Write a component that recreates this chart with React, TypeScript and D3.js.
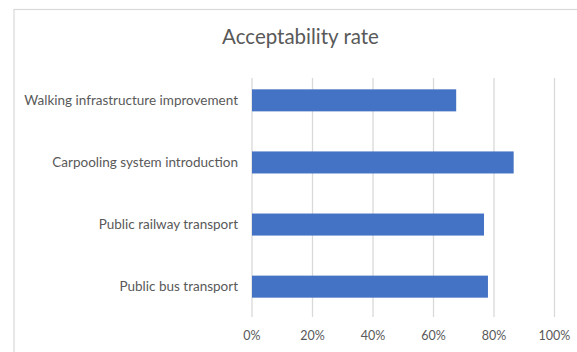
import React from "react";
import * as d3 from "d3";

const categories = [
  "Walking infrastructure improvement",
  "Carpooling system introduction",
  "Public railway transport",
  "Public bus transport",
];
const values = [0.675, 0.865, 0.767, 0.78];
const ticks = [0, 0.2, 0.4, 0.6, 0.8, 1.0];
const title = "Acceptability rate";

export default function App() {
  const W = 577, H = 352;
  const x = d3.scaleLinear().domain([0, 1]).range([252, 554.5]);
  const y = d3.scaleBand().domain(categories).range([69.3, 317.7]).paddingInner(40 / 62).paddingOuter(20 / 62);
  const font = "Lato, 'Open Sans', sans-serif";
  const fmt = d3.format(".0%");
  return (
    <svg width={W} height={H} style={{ position: "absolute", left: 0, top: 0, background: "#fff" }}>
      <rect x={14} y={9.5} width={W} height={H} fill="#fff" stroke="#d9d9d9" strokeWidth={1.2} />
      <text x={300.5} y={44} textAnchor="middle" fontFamily={font} fontSize={20.5} fill="#595959">{title}</text>
      {ticks.map((t) => (
        <line key={"g" + t} x1={x(t)} x2={x(t)} y1={78} y2={317} stroke="#d9d9d9" strokeWidth={1.3} />
      ))}
      {categories.map((c, i) => (
        <rect key={c} x={x(0)} y={y(c)!} width={x(values[i]) - x(0)} height={y.bandwidth()} fill="#4472c4" />
      ))}
      {categories.map((c) => (
        <text key={"l" + c} x={238} y={y(c)! + y.bandwidth() / 2} dy="0.35em" textAnchor="end" fontFamily={font} fontSize={13.5} fill="#595959">{c}</text>
      ))}
      {ticks.map((t) => (
        <text key={"t" + t} x={x(t)} y={336} dy="0.35em" textAnchor="middle" fontFamily={font} fontSize={12.5} fill="#595959">{fmt(t)}</text>
      ))}
    </svg>
  );
}
